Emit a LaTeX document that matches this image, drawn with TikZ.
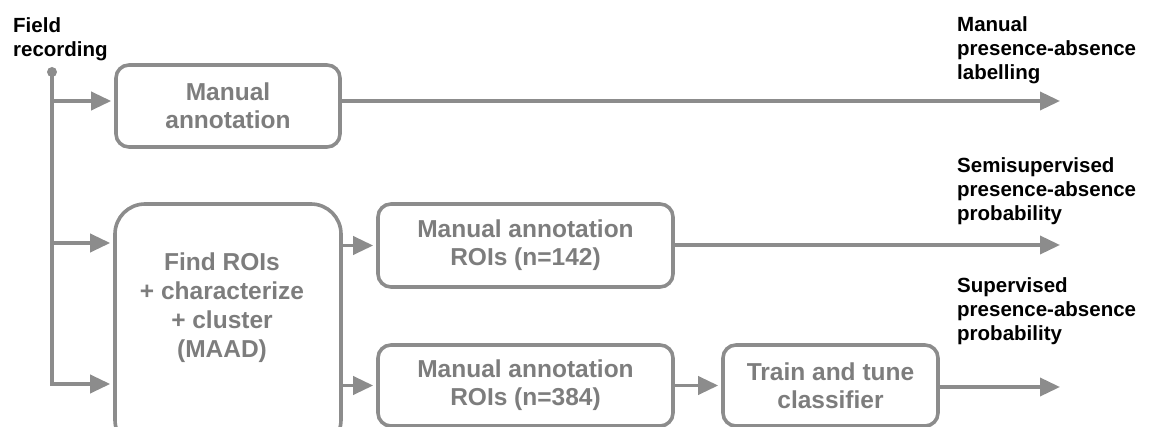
\documentclass[tikz,border=0pt]{standalone}
\usepackage{fontspec}
\setmainfont{Liberation Sans}
\usetikzlibrary{arrows.meta}
\definecolor{lg}{RGB}{140,140,140}
\definecolor{tg}{RGB}{125,125,125}
\begin{document}
\begin{tikzpicture}[x=1pt,y=-1pt,
  box/.style={draw=lg, line width=3.6pt, rounded corners=13pt, text=tg,
    font=\fontsize{24.5}{28}\selectfont\bfseries, align=center, inner sep=0pt},
  boxtext/.style={text=tg, font=\fontsize{24.5}{29}\selectfont\bfseries, align=center, inner sep=0pt},
  lbl/.style={font=\fontsize{20.5}{24}\selectfont\bfseries, align=left, anchor=north west, inner sep=0pt, text=black},
  conn/.style={draw=lg, line width=3.6pt},
  arr/.style={conn, -{Triangle[length=20pt,width=18pt]}, shorten >=3pt}]
\useasboundingbox (0,0) rectangle (1149,427);
\clip (0,0) rectangle (1149,427);

% boxes
\node[box, minimum width=224pt, minimum height=82pt] (b1) at (228,106) {Manual\\annotation};
\node[box, rounded corners=30pt, minimum width=226pt, minimum height=246pt] (b2) at (228,327) {};
\node[boxtext] (b2t) at (222,308) {Find ROIs\\+ characterize\\+ cluster\\(MAAD)};
\node[box, minimum width=295pt, minimum height=83pt] (b3) at (525.5,245.5) {Manual annotation\\ROIs (n=142)};
\node[box, minimum width=295pt, minimum height=81pt] (b4) at (525.5,385.5) {Manual annotation\\ROIs (n=384)};
\node[box, minimum width=215pt, minimum height=81pt] (b5) at (830.5,385.5) {Train and tune\\classifier};

% labels
\node[lbl] (fr) at (13,17) {Field\\recording};
\node[lbl] (l1) at (957,16) {Manual\\presence-absence\\labelling};
\node[lbl] (l2) at (957,157) {Semisupervised\\presence-absence\\probability};
\node[lbl] (l3) at (957,277) {Supervised\\presence-absence\\probability};

% trunk
\node[circle, fill=lg, inner sep=0pt, minimum size=10pt] (dot) at (52,72) {};
\coordinate (t1) at (52,101);
\coordinate (t2) at (52,243);
\coordinate (t3) at (52,384);
\draw[arr] (dot.center) -- (t3) -- (t3 -| b2.west);
\draw[arr] (t1) -- (t1 -| b1.west);
\draw[arr] (t2) -- (t2 -| b2.west);

% internal connectors
\draw[arr] (b3.west -| b2.east) -- (b3.west);
\draw[arr] (b4.west -| b2.east) -- (b4.west);
\draw[arr] (b4.east) -- (b5.west);

% outputs
\coordinate (o1) at (1063,101);
\coordinate (o2) at (1063,245);
\coordinate (o3) at (1063,387);
\draw[arr] (o1 -| b1.east) -- (o1);
\draw[arr] (o2 -| b3.east) -- (o2);
\draw[arr] (o3 -| b5.east) -- (o3);
\end{tikzpicture}
\end{document}
